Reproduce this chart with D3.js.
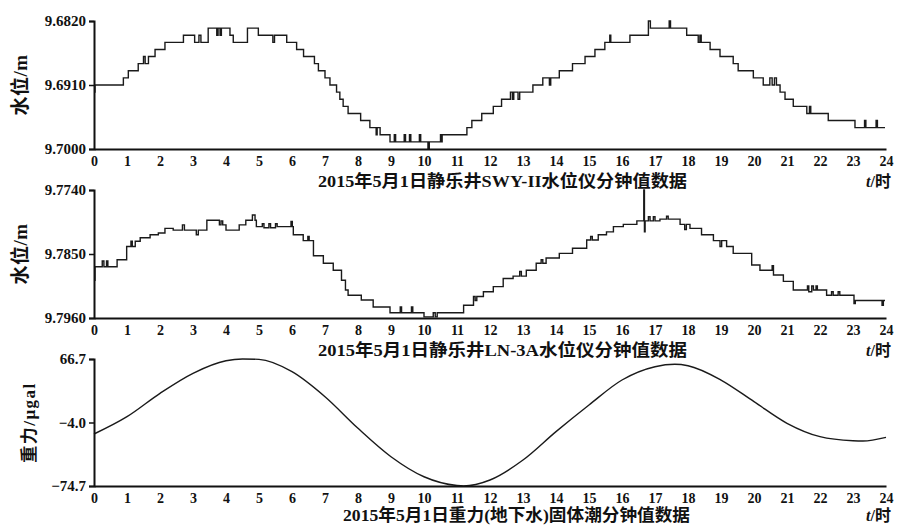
<!DOCTYPE html>
<html>
<head>
<meta charset="utf-8">
<script src="https://cdn.jsdelivr.net/npm/d3@7"></script>
<style>
  body { margin: 0; background: #fff; }
  text { font-family: "Liberation Serif", "Noto Sans CJK SC", serif; font-weight: bold; fill: #111; }
</style>
</head>
<body>
<svg id="chart" width="900" height="527"></svg>
<script>
// Hour ticks shared by all three panels
const hourTicks = [0, 1, 2, 3, 4, 5, 6, 7, 8, 9, 10, 11, 12, 13, 14, 15, 16, 17, 18, 19, 20, 21, 22, 23, 24];

// SWY-II water level (m), change points: hour of change and new level
const swyTimes = [0.00, 0.03, 0.89, 1.04, 1.34, 1.50, 1.55, 1.65, 1.85, 2.15, 2.71, 3.05, 3.18, 3.24, 3.46,
  3.72, 3.76, 3.82, 3.86, 4.12, 4.22, 4.65, 4.98, 5.42, 5.47, 5.84, 6.14, 6.35, 6.68, 6.80, 7.00, 7.15,
  7.35, 7.45, 7.55, 7.70, 8.08, 8.36, 8.55, 8.58, 8.67, 8.97, 9.10, 9.14, 9.40, 9.44, 9.56, 9.60, 9.86,
  9.90, 10.12, 10.16, 10.50, 10.52, 10.55, 11.30, 11.45, 11.75, 12.10, 12.35, 12.62, 12.68, 12.72, 12.85,
  12.90, 13.30, 13.60, 13.80, 13.84, 14.10, 14.50, 14.88, 15.18, 15.48, 15.63, 15.66, 16.24, 16.80, 16.86,
  17.43, 17.47, 17.96, 18.31, 18.36, 18.40, 18.67, 18.97, 19.37, 19.52, 19.98, 20.28, 20.48, 20.55, 20.62,
  20.68, 20.79, 20.94, 21.19, 21.60, 21.68, 21.72, 22.25, 23.06, 23.35, 23.39, 23.70, 23.74, 23.97];
const swyLevels = [9.692, 9.691, 9.690, 9.689, 9.688, 9.687, 9.688, 9.687, 9.686, 9.685, 9.684, 9.685, 9.684, 9.685, 9.683,
  9.684, 9.683, 9.684, 9.683, 9.684, 9.685, 9.683, 9.684, 9.685, 9.684, 9.685, 9.686, 9.687, 9.688, 9.689, 9.690, 9.691,
  9.692, 9.693, 9.694, 9.695, 9.696, 9.697, 9.698, 9.697, 9.698, 9.699, 9.698, 9.699, 9.698, 9.699, 9.698, 9.699, 9.698,
  9.699, 9.700, 9.699, 9.698, 9.699, 9.698, 9.697, 9.696, 9.695, 9.694, 9.693, 9.692, 9.693, 9.692, 9.693,
  9.692, 9.691, 9.690, 9.691, 9.690, 9.689, 9.688, 9.687, 9.686, 9.685, 9.684, 9.685, 9.684, 9.682, 9.683,
  9.682, 9.683, 9.684, 9.685, 9.684, 9.685, 9.686, 9.687, 9.688, 9.689, 9.690, 9.691, 9.690, 9.691, 9.690,
  9.691, 9.692, 9.693, 9.694, 9.695, 9.694, 9.695, 9.696, 9.697, 9.696, 9.697, 9.696, 9.697, 9.697];

// LN-3A water level (m), change points
const lnTimes = [0.00, 0.03, 0.25, 0.30, 0.38, 0.42, 0.70, 0.99, 1.12, 1.16, 1.25, 1.40, 1.70, 1.95, 2.15,
  2.40, 2.68, 2.74, 3.10, 3.16, 3.42, 3.80, 3.85, 3.90, 4.00, 4.40, 4.60, 4.80, 4.88, 4.92, 5.10, 5.15,
  5.30, 5.35, 5.50, 5.55, 5.97, 6.01, 6.04, 6.34, 6.48, 6.52, 6.65, 6.95, 7.25, 7.50, 7.62, 7.70, 8.10,
  8.46, 8.97, 9.28, 9.32, 9.62, 9.66, 10.00, 10.28, 10.34, 10.40, 11.20, 11.50, 11.55, 11.60, 11.80, 12.10,
  12.40, 12.70, 12.90, 12.95, 13.10, 13.40, 13.55, 13.60, 13.70, 14.10, 14.50, 14.93, 15.05, 15.10, 15.28,
  15.53, 15.74, 16.04, 16.45, 16.66, 16.68, 16.70, 16.80, 16.85, 16.95, 17.00, 17.15, 17.35, 17.40, 17.76,
  17.90, 17.95, 18.06, 18.41, 18.77, 18.97, 19.02, 19.17, 19.37, 19.93, 20.18, 20.55, 20.59, 20.89, 21.19,
  21.62, 21.66, 21.75, 21.80, 21.88, 21.92, 22.20, 22.35, 22.40, 22.55, 22.60, 23.03, 23.07, 23.88, 23.92, 23.97];
const lnLevels = [9.7895, 9.7872, 9.7862, 9.7872, 9.7862, 9.7872, 9.7860, 9.7837, 9.7828, 9.7837, 9.7828, 9.7822, 9.7817, 9.7814, 9.7806,
  9.7809, 9.7800, 9.7809, 9.7817, 9.7809, 9.7792, 9.7800, 9.7793, 9.7800, 9.7809, 9.7800, 9.7792, 9.7783, 9.7792, 9.7803, 9.7798, 9.7805,
  9.7798, 9.7805, 9.7798, 9.7803, 9.7794, 9.7803, 9.7817, 9.7827, 9.7820, 9.7827, 9.7853, 9.7866, 9.7878, 9.7895, 9.7912, 9.7921, 9.7929,
  9.7941, 9.7951, 9.7941, 9.7951, 9.7941, 9.7951, 9.7958, 9.7951, 9.7958, 9.7951, 9.7938, 9.7923, 9.7930, 9.7923, 9.7915, 9.7906,
  9.7892, 9.7888, 9.7880, 9.7888, 9.7878, 9.7866, 9.7860, 9.7866, 9.7857, 9.7849, 9.7840, 9.7826, 9.7820, 9.7826, 9.7817,
  9.7812, 9.7803, 9.7799, 9.7793, 9.7740, 9.7812, 9.7793, 9.7786, 9.7793, 9.7786, 9.7793, 9.7790, 9.7785, 9.7790, 9.7799,
  9.7808, 9.7799, 9.7806, 9.7817, 9.7827, 9.7837, 9.7827, 9.7837, 9.7849, 9.7869, 9.7878, 9.7870, 9.7886, 9.7897, 9.7912,
  9.7905, 9.7915, 9.7905, 9.7912, 9.7905, 9.7912, 9.7921, 9.7915, 9.7921, 9.7915, 9.7921, 9.7935, 9.7930, 9.7938, 9.7930, 9.7930];

// Solid-earth tide gravity (μgal)
const tideHours = [0, 1, 2, 3, 4, 4.5, 5, 6, 7, 8, 9, 10, 11, 11.2, 12, 13, 14, 15, 16, 17, 17.6, 18, 19, 20, 21, 22, 23, 23.3, 24];
const tideValues = [-16.8, 2.5, 28.5, 50.8, 64.8, 66.7, 66.3, 52.6, 24.7, -10.5, -42.1, -64.4, -74.2, -74.7, -68.0, -45.8, -14.2,
  15.5, 43.3, 58.1, 60.8, 59.2, 43.3, 19.2, -4.9, -19.8, -24.3, -24.6, -20.5];

// Axis tick values and their labels
const swyTicks = [9.6820, 9.6910, 9.7000];
const swyTickLabels = ["9.6820", "9.6910", "9.7000"];
const lnTicks = [9.7740, 9.7850, 9.7960];
const lnTickLabels = ["9.7740", "9.7850", "9.7960"];
const tideTicks = [66.7, -4.0, -74.7];
const tideTickLabels = ["66.7", "\u22124.0", "\u221274.7"];

// Panel titles and axis names
const panelTitles = [
  "2015年5月1日静乐井SWY-II水位仪分钟值数据",
  "2015年5月1日静乐井LN-3A水位仪分钟值数据",
  "2015年5月1日重力(地下水)固体潮分钟值数据"
];
const yAxisNames = ["水位/m", "水位/m", "重力/μgal"];

const svg = d3.select("#chart");
const x0 = 94, x1 = 886;
const x = d3.scaleLinear().domain([0, 24]).range([x0, x1]);

const panels = [
  { top: 21, bottom: 149, domain: [9.6820, 9.7000], ticks: swyTicks, labels: swyTickLabels,
    times: swyTimes, values: swyLevels, curve: d3.curveStepAfter, titleX: [318, 687], titleY: 187,
    name: yAxisNames[0], nameX: 20, nameSize: 19, nameSpacing: 0.5 },
  { top: 190, bottom: 318, domain: [9.7740, 9.7960], ticks: lnTicks, labels: lnTickLabels,
    times: lnTimes, values: lnLevels, curve: d3.curveStepAfter, titleX: [318, 687], titleY: 356,
    name: yAxisNames[1], nameX: 20, nameSize: 19, nameSpacing: 0.5 },
  { top: 359, bottom: 486, domain: [66.7, -74.7], ticks: tideTicks, labels: tideTickLabels,
    times: tideHours, values: tideValues, curve: d3.curveMonotoneX, titleX: [343, 690], titleY: 521,
    name: yAxisNames[2], nameX: 29, nameSize: 17, nameSpacing: 1.5 }
];

panels.forEach((p, i) => {
  const y = d3.scaleLinear().domain(p.domain).range([p.top, p.bottom]);
  const g = svg.append("g");

  // data line
  const pts = p.times.map((t, k) => [t, p.values[k]]);
  g.append("path")
    .datum(pts)
    .attr("fill", "none")
    .attr("stroke", "#1a1a1a")
    .attr("stroke-width", 1.4)
    .attr("d", d3.line().x(d => x(d[0])).y(d => y(d[1])).curve(p.curve));

  // y axis
  const ya = g.append("g").attr("transform", `translate(${x0},0)`)
    .call(d3.axisLeft(y).tickValues(p.ticks).tickFormat((d, k) => p.labels[k]).tickSize(5).tickPadding(3));
  ya.select(".domain").attr("stroke", "#111").attr("stroke-width", 2);
  ya.selectAll(".tick line").attr("stroke", "#111").attr("stroke-width", 1.5);
  ya.selectAll("text").style("font-size", "15px").attr("fill", "#111");

  // x axis
  const xa = g.append("g").attr("transform", `translate(0,${p.bottom})`)
    .call(d3.axisBottom(x).tickValues(hourTicks).tickFormat(d3.format("d")).tickSize(0).tickPadding(7));
  xa.select(".domain").attr("stroke", "#111").attr("stroke-width", 2);
  xa.selectAll("text").style("font-size", "14px").attr("fill", "#111");

  // panel title
  g.append("text")
    .attr("x", p.titleX[0]).attr("y", p.titleY)
    .attr("textLength", p.titleX[1] - p.titleX[0])
    .attr("lengthAdjust", "spacingAndGlyphs")
    .style("font-size", "17px")
    .text(panelTitles[i]);

  // time unit
  const tu = g.append("text").attr("x", 866).attr("y", p.titleY).style("font-size", "16px");
  tu.append("tspan").style("font-style", "italic").text("t");
  tu.append("tspan").text("/时");

  // y axis name
  g.append("text")
    .attr("transform", `translate(${p.nameX},${(p.top + p.bottom) / 2}) rotate(-90)`)
    .attr("text-anchor", "middle")
    .attr("dy", "0.35em")
    .style("font-size", p.nameSize + "px")
    .style("letter-spacing", p.nameSpacing + "px")
    .text(p.name);
});
</script>
</body>
</html>
